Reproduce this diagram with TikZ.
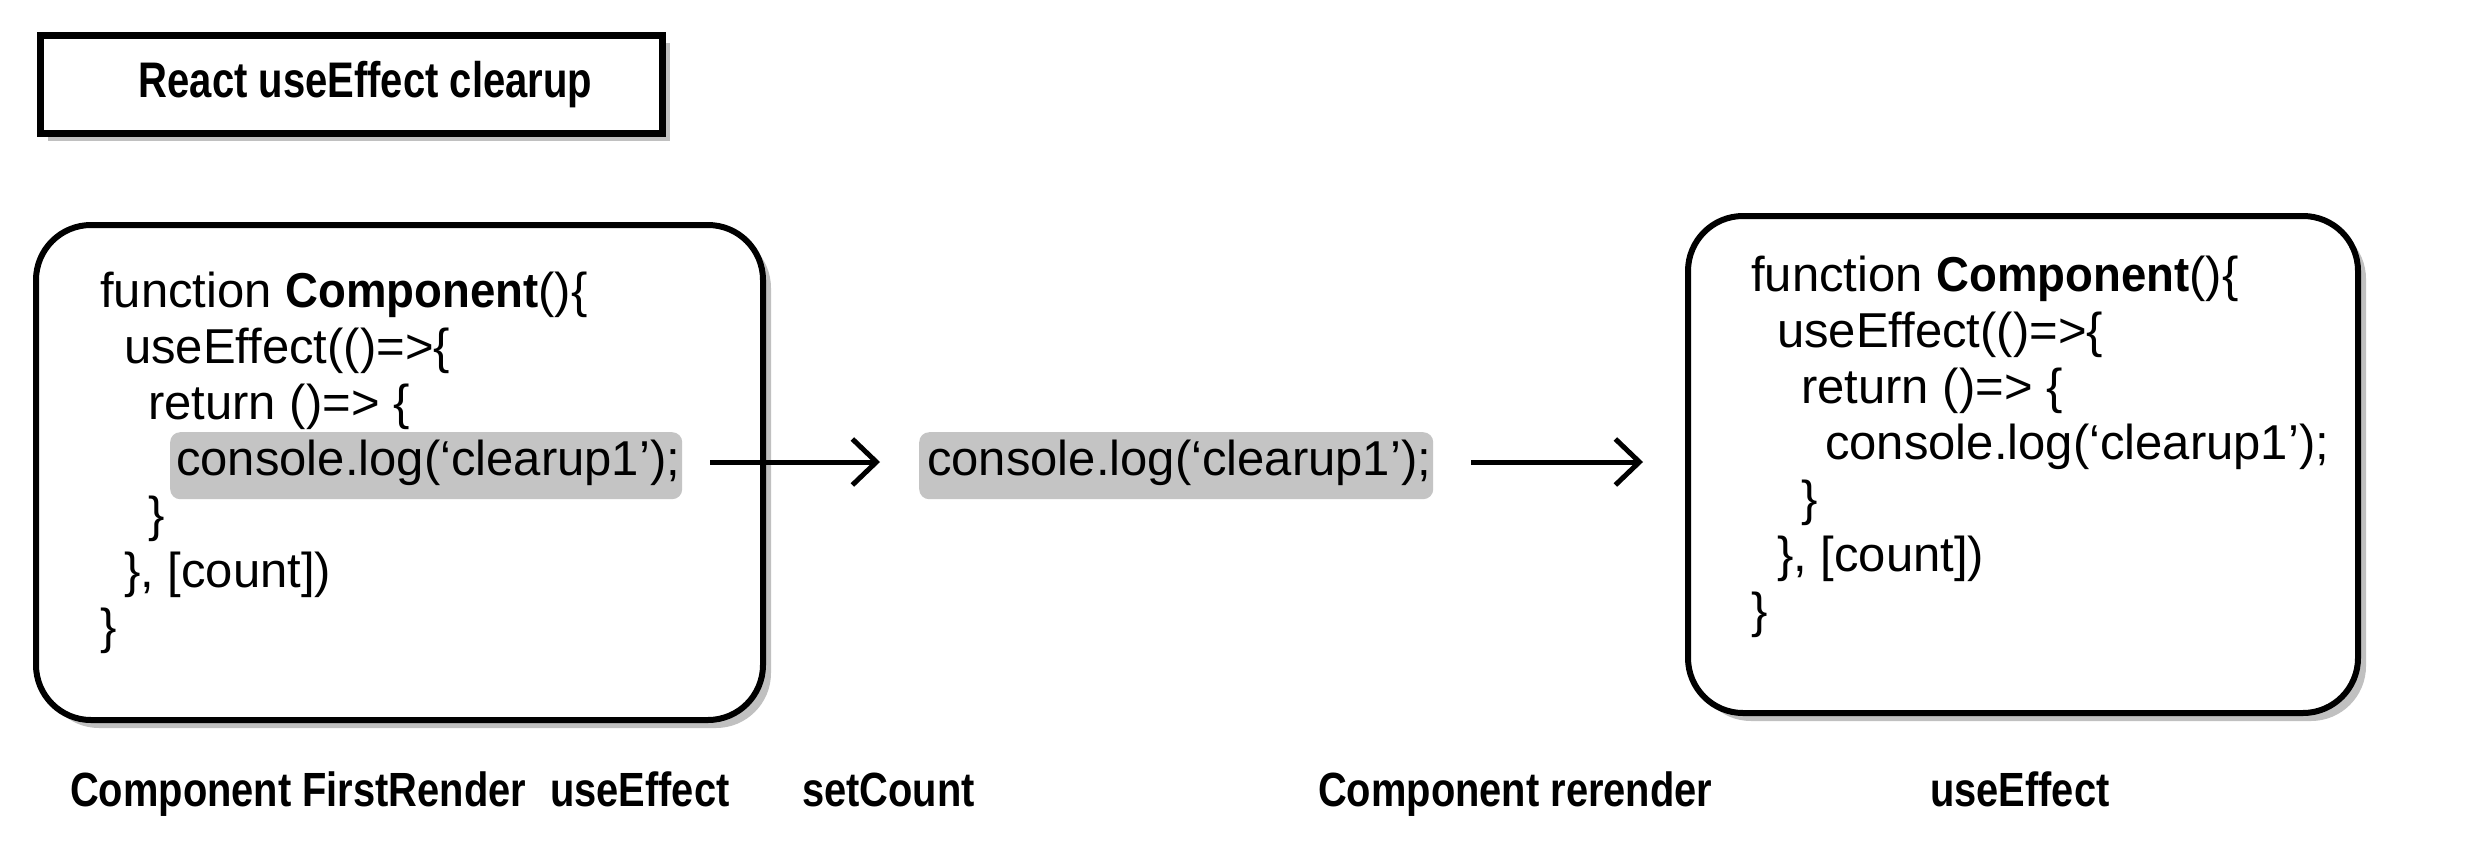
\documentclass[tikz,border=0pt]{standalone}
\usepackage{fontspec}
\setmainfont{Liberation Sans}
\newfontfamily\lblfont{Liberation Sans}[FakeStretch=0.83]
\newfontfamily\ttlfont{Liberation Sans}[FakeStretch=0.80]
\newfontfamily\cbfont{Liberation Sans}[FakeStretch=0.93]
\usetikzlibrary{arrows.meta,shadows}
\definecolor{hl}{RGB}{196,196,196}
\definecolor{shadowc}{RGB}{192,192,192}
\tikzset{
 codebox/.style={draw=black,line width=6pt,rounded corners=55pt,fill=white,
   drop shadow={shadow xshift=8pt,shadow yshift=-8pt,fill=shadowc,opacity=1}},
 titlebox/.style={draw=black,line width=7pt,fill=white,inner sep=0pt,
   drop shadow={shadow xshift=7pt,shadow yshift=-7pt,fill=shadowc,opacity=1}},
 ttltext/.style={inner sep=0pt,font=\ttlfont\bfseries\fontsize{50}{56}\selectfont},
 hlbox/.style={fill=hl,rounded corners=10pt,inner sep=0pt},
 code/.style={anchor=base west,inner sep=0pt,font=\fontsize{49}{56}\selectfont},
 lbl/.style={anchor=base west,inner sep=0pt,font=\lblfont\bfseries\fontsize{48}{54}\selectfont},
 flow/.style={line width=5pt,-{Straight Barb[length=24pt,width=46pt,line width=5pt]}}
}
\newcommand{\cb}[1]{{\cbfont\bfseries #1}}
\begin{document}
\begin{tikzpicture}[x=1pt,y=-1pt]
\useasboundingbox[fill=white] (0,0) rectangle (2476,860);
% title
\node[titlebox,minimum width=622pt,minimum height=98pt,anchor=north west] (title) at (37,32) {};
\node[ttltext] (titletext) at ([xshift=14pt]title.center) {React useEffect clearup};
% left box
\node[codebox,minimum width=727pt,minimum height=495pt,anchor=north west] (box1) at (33,222) {};
\node[hlbox,minimum width=512pt,minimum height=67pt,anchor=north west] (hl1) at (170,432) {};
\node[code] (l1) at (100,307) {function \cb{Component}()\{};
\node[code] (l2) at (124,363) {useEffect(()=>\{};
\node[code] (l3) at (148,419) {return ()=> \{};
\node[code] (l4) at (176,475) {console.log(‘clearup1’);};
\node[code] (l5) at (148,531) {\}};
\node[code] (l6) at (124,587) {\}, [count])};
\node[code] (l7) at (100,643) {\}};
% middle
\node[hlbox,minimum width=514pt,minimum height=67pt,anchor=north west] (hl2) at (919,432) {};
\node[code] (m1) at (927,475) {console.log(‘clearup1’);};
% right box
\node[codebox,minimum width=670pt,minimum height=497pt,anchor=north west] (box2) at (1685,213) {};
\node[code] (r1) at (1751,291) {function \cb{Component}()\{};
\node[code] (r2) at (1777,347) {useEffect(()=>\{};
\node[code] (r3) at (1801,403) {return ()=> \{};
\node[code] (r4) at (1825,459) {console.log(‘clearup1’);};
\node[code] (r5) at (1801,515) {\}};
\node[code] (r6) at (1777,571) {\}, [count])};
\node[code] (r7) at (1751,627) {\}};
% arrows
\coordinate (a1s) at (710,462);
\coordinate (a1e) at (880,462);
\coordinate (a2s) at (1471,462);
\coordinate (a2e) at (1643,462);
\draw[flow] (a1s) -- (a1e);
\draw[flow] (a2s) -- (a2e);
% labels
\node[lbl] (t1) at (70,806) {Component FirstRender};
\node[lbl] (t2) at (550,806) {useEffect};
\node[lbl] (t3) at (802,806) {setCount};
\node[lbl] (t4) at (1318,806) {Component rerender};
\node[lbl] (t5) at (1930,806) {useEffect};
\end{tikzpicture}
\end{document}
